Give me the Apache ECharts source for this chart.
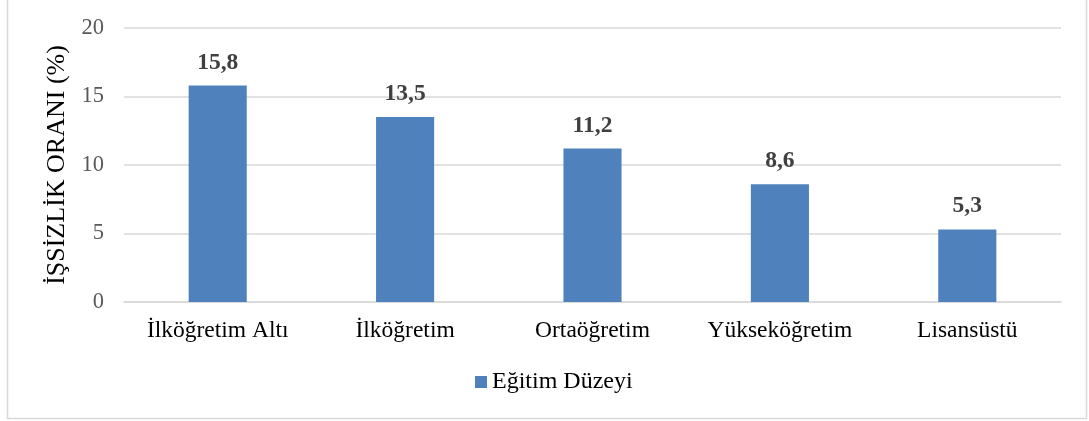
<!DOCTYPE html>
<html><head><meta charset="utf-8">
<script src="https://cdn.jsdelivr.net/npm/echarts@6/dist/echarts.min.js"></script>
<style>html,body{margin:0;padding:0;background:#fff}#c{width:1089px;height:421px}</style>
</head><body><div id="c"></div>
<script>
const categories = ['İlköğretim Altı', 'İlköğretim', 'Ortaöğretim', 'Yükseköğretim', 'Lisansüstü'];
const values = [15.8, 13.5, 11.2, 8.6, 5.3];
const seriesName = 'Eğitim Düzeyi';
const yAxisName = 'İŞSİZLİK ORANI (%)';
const FONT = '"Liberation Serif", "Times New Roman", serif';
const chart = echarts.init(document.getElementById('c'), null, {renderer: 'canvas'});
chart.setOption({
  animation: false,
  textStyle: {fontFamily: FONT},
  graphic: [{type: 'rect', shape: {x: 7.5, y: -5, width: 1079, height: 423.5}, style: {fill: 'none', stroke: '#d9d9d9', lineWidth: 1.5}, silent: true}],
  grid: {left: 124, right: 28, top: 28, bottom: 119, containLabel: false},
  legend: {
    data: [seriesName], top: 370, left: 475, icon: 'rect', itemWidth: 12, itemHeight: 12, itemGap: 5, padding: 0,
    textStyle: {fontFamily: FONT, fontSize: 24, color: '#000', padding: [0, 0, 0, 0]}
  },
  xAxis: {
    type: 'category', data: categories,
    axisLine: {show: true, lineStyle: {color: '#d9d9d9', width: 1.5}},
    axisTick: {show: false},
    axisLabel: {interval: 0, fontFamily: FONT, fontSize: 23.5, color: '#000', margin: 17}
  },
  yAxis: {
    type: 'value', min: 0, max: 20, interval: 5,
    name: yAxisName, nameLocation: 'middle', nameGap: 54,
    nameTextStyle: {fontFamily: FONT, fontSize: 26, color: '#000'},
    axisLine: {show: false}, axisTick: {show: false},
    axisLabel: {fontFamily: FONT, fontSize: 22.5, color: '#595959', margin: 20},
    splitLine: {lineStyle: {color: '#d9d9d9', width: 1.5}}
  },
  series: [{
    name: seriesName, type: 'bar', data: values, barWidth: '31%',
    itemStyle: {color: '#4f81bd'},
    label: {show: true, position: 'top', distance: 11, fontFamily: FONT, fontSize: 23.5, fontWeight: 'bold', color: '#404040',
      formatter: p => String(p.value).replace('.', ',')}
  }]
});
</script></body></html>
